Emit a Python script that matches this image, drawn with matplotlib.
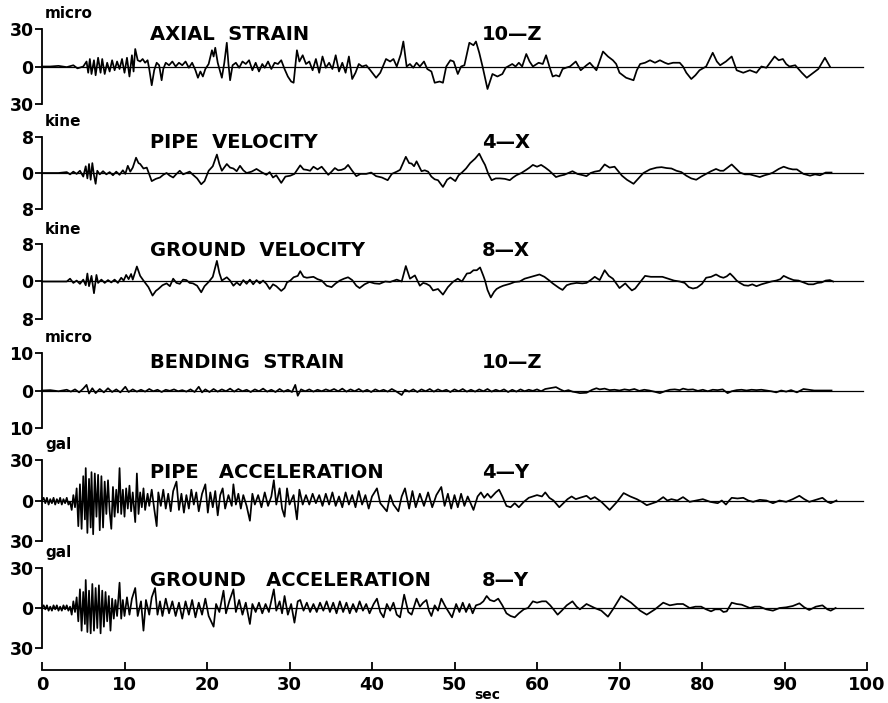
import matplotlib
matplotlib.use("Agg")
import matplotlib.pyplot as plt

plt.rcParams['font.family'] = ['DejaVu Sans']
plt.rcParams['font.weight'] = 'bold'

# (time sec, value) pairs
axial_strain = [
    (0, 0), (1, 0), (2, 0.5), (3, -0.5), (3.8, 1), (4.3, -1.5), (5.0, 0), (5.4, 4), (5.6, -5), (5.8, 6),
    (6.0, -6), (6.3, 5), (6.5, -7), (6.8, 7), (7.1, -5), (7.3, 6), (7.6, -6), (7.9, 3), (8.2, -4), (8.5, 5),
    (8.8, -3), (9.1, 4), (9.4, -2), (9.7, 6), (10.0, -5), (10.3, 7), (10.6, -8), (10.9, 9), (11.1, -4), (11.3, 14),
    (11.6, 5), (11.9, 4), (12.2, 6), (12.5, 3), (12.8, 5), (13.0, -2), (13.3, -15), (13.6, -3), (13.9, 3), (14.2, 1),
    (14.5, -11), (14.7, -2), (15.0, 3), (15.4, 1), (15.8, 4), (16.2, 0), (16.6, 3), (17.0, 1), (17.4, 4), (17.8, -1),
    (18.2, 3), (18.6, -3), (18.9, -9), (19.2, -4), (19.5, -8), (19.8, -2), (20.2, 2), (20.6, 13), (20.8, 8), (21.0, 15),
    (21.3, 3), (21.8, -9), (22.1, 3), (22.4, 19), (22.6, 2), (22.8, -11), (23.1, 1), (23.5, 3), (23.9, -1), (24.3, 4),
    (24.7, 2), (25.1, 5), (25.5, -3), (25.9, 3), (26.3, -4), (26.7, 2), (27.0, -1), (27.4, 4), (27.8, -2), (28.2, 3),
    (28.6, 2), (29.0, 5), (29.4, -2), (29.8, -8), (30.2, -12), (30.5, -13), (30.9, 13), (31.2, 4), (31.6, 9), (32.0, 2),
    (32.4, 4), (32.8, -3), (33.2, 6), (33.6, -5), (34.0, 8), (34.4, -1), (34.8, 3), (35.2, -2), (35.6, 9), (36.0, -4),
    (36.4, 3), (36.8, -5), (37.2, 8), (37.6, -10), (38.0, -5), (38.4, 2), (38.8, 0), (39.3, 1), (39.8, -3), (40.5, -9),
    (41.0, -5), (41.7, 6), (42.2, 4), (42.6, 6), (43.0, 0), (43.5, 10), (43.8, 20), (44.2, 0), (44.6, 2), (45.0, -1),
    (45.4, 3), (45.8, 0), (46.3, 4), (46.7, -2), (47.2, -4), (47.6, -13), (48.2, -12), (48.6, -13), (49.0, 0), (49.5, 5),
    (49.9, 4), (50.4, -6), (50.8, 0), (51.2, 1), (51.8, 19), (52.3, 17), (52.6, 20), (53.0, 11), (53.4, 0), (54.0, -18),
    (54.3, -12), (54.6, -6), (55.2, -8), (55.8, -6), (56.2, -1), (57.0, 2), (57.4, 0), (57.8, 3), (58.2, 0), (58.7, 10),
    (59.1, 4), (59.5, 0), (60.2, 3), (60.7, 2), (61.1, 9), (61.5, 0), (61.9, -8), (62.3, -7), (62.7, -8), (63.1, -2),
    (63.5, -1), (64.0, 0), (64.7, 4), (65.3, -3), (66.0, 1), (66.4, 3), (67.2, -3), (68.0, 12), (68.6, 8), (69.2, 5),
    (69.6, 2), (70.0, -5), (70.8, -9), (71.7, -11), (72.1, -3), (72.5, 2), (73.1, 3), (73.7, 5), (74.3, 3), (74.9, 5),
    (75.5, 3), (75.9, 2), (76.5, 3), (77.3, 3), (77.7, 0), (78.1, -5), (78.7, -10), (79.2, -7), (79.7, -3), (80.5, 0),
    (81.3, 11), (81.8, 4), (82.2, 1), (82.9, 4), (83.6, 8), (84.2, -3), (84.6, -4), (85.0, -5), (85.8, -3), (86.6, -5),
    (87.2, 0), (87.8, -1), (88.8, 8), (89.3, 5), (89.8, 6), (90.2, 2), (90.6, 0), (91.3, 1), (92.1, -5), (92.7, -9),
    (93.5, -5), (94.1, -2), (94.9, 7), (95.5, 0),
]

pipe_velocity = [
    (0, 0), (2, 0), (3.0, 0.2), (3.4, -0.3), (3.8, 0.3), (4.2, -0.2), (4.6, 0.5), (5.0, -0.8), (5.3, 1.5), (5.5, -1.2),
    (5.7, 2.0), (5.9, -1.5), (6.1, 2.2), (6.3, -0.5), (6.5, -2.4), (6.7, 0.5), (7.0, -0.3), (7.4, 0.4), (7.8, -0.3), (8.2, 0.2),
    (8.6, -0.5), (9.0, 0.3), (9.4, -0.4), (9.8, 0.6), (10.1, -0.2), (10.4, 1.6), (10.7, 0.3), (11.0, 1.2), (11.4, 3.4), (11.7, 2.2),
    (11.9, 2.0), (12.3, 1.0), (12.7, 1.2), (13.3, -1.8), (13.8, -1.3), (14.3, -1.0), (14.7, -0.4), (15.1, 0), (15.5, -0.6), (15.9, -1.0),
    (16.3, -0.2), (16.7, 0.5), (17.1, -0.3), (17.5, 0), (17.9, 0.3), (18.3, -0.4), (18.8, -1.2), (19.3, -2.5), (19.7, -1.8), (20.2, 0.5),
    (20.7, 1.5), (21.2, 4.1), (21.5, 2.0), (21.8, 0.5), (22.4, 2.0), (22.8, 1.2), (23.2, 1.0), (23.6, 0.4), (24.0, 1.6), (24.4, 0.6),
    (24.8, 0), (25.4, 0.3), (26.0, 0.9), (26.6, 0.2), (27.2, -0.4), (27.6, 0.2), (28.0, -1.0), (28.4, -0.5), (29.0, -2.2), (29.5, -0.8),
    (30.1, -0.6), (30.6, -0.2), (31.3, 1.7), (31.7, 0.8), (32.1, 0.7), (32.5, 0.5), (32.9, 1.4), (33.4, 0.8), (33.9, 1.4), (34.3, 0.5),
    (34.7, -0.4), (35.1, 0.3), (35.5, 1.1), (35.9, 0.6), (36.3, 0.7), (36.7, 1.0), (37.1, 1.8), (37.6, 0.5), (38.1, -0.7), (38.6, -0.2),
    (39.3, -0.2), (39.9, 0.1), (40.5, -0.7), (41.2, -1.0), (41.9, -1.6), (42.4, -0.2), (43.0, 0.3), (43.4, 0.7), (44.1, 3.6), (44.5, 2.2),
    (44.8, 2.1), (45.1, 1.5), (45.4, 2.6), (46.0, 0.4), (46.4, 0.6), (46.8, 0.3), (47.2, -0.8), (47.6, -1.4), (48.0, -1.6), (48.6, -3.1),
    (49.1, -1.5), (49.5, -1.0), (50.1, -1.8), (50.5, -0.5), (50.9, 0.1), (51.4, 1.0), (51.9, 2.2), (52.5, 3.2), (53.0, 4.3), (53.4, 2.8),
    (53.7, 1.8), (54.1, -0.2), (54.5, -1.6), (55.0, -1.2), (55.5, -1.2), (56.1, -1.3), (56.7, -1.6), (57.1, -1.0), (57.5, -0.5), (58.1, 0),
    (58.7, 0.7), (59.1, 1.2), (59.5, 1.8), (60.0, 1.4), (60.5, 1.8), (61.0, 1.2), (61.5, 0.5), (61.9, -0.2), (62.3, -0.9), (62.8, -0.6),
    (63.3, -0.4), (63.8, 0), (64.3, 0.4), (64.9, -0.2), (65.6, -0.5), (66.0, -0.7), (66.5, 0), (67.0, 0.3), (67.6, 0.5), (68.2, 1.9),
    (68.8, 1.2), (69.4, 1.4), (69.8, 0.5), (70.3, -0.6), (70.9, -1.5), (71.7, -2.4), (72.3, -1.2), (72.9, 0), (73.7, 0.8), (74.5, 1.2),
    (75.1, 1.3), (75.7, 1.1), (76.3, 1.0), (76.9, 0.5), (77.5, 0.2), (78.1, -0.6), (78.7, -1.2), (79.3, -1.5), (79.9, -0.8), (80.5, -0.2),
    (81.1, 0.4), (81.7, 0.9), (82.2, 0.5), (82.6, 0.5), (83.1, 1.2), (83.6, 1.9), (84.1, 1.0), (84.6, 0.1), (85.2, -0.3), (85.8, -0.3),
    (86.4, -0.6), (87.0, -0.9), (87.6, -0.5), (88.2, -0.2), (88.6, 0.1), (89.3, 0.9), (89.9, 1.4), (90.5, 1.0), (91.0, 0.8), (91.5, 0.8),
    (92.3, -0.2), (93.1, -0.6), (93.7, -0.3), (94.3, -0.5), (95.0, 0.1), (95.7, 0.1),
]

ground_velocity = [
    (0, 0), (3.0, 0), (3.4, 0.6), (3.8, -0.3), (4.2, 0.2), (4.6, -0.5), (5.0, 0.4), (5.3, -0.8), (5.5, 1.7), (5.7, -1.0),
    (6.0, 1.2), (6.3, -2.5), (6.6, 1.4), (6.8, -0.3), (7.2, 0.4), (7.6, -0.3), (8.0, 0.3), (8.4, -0.2), (8.8, 0.4), (9.2, -0.3),
    (9.6, 0.8), (9.9, 0.2), (10.2, 1.4), (10.5, 0.5), (10.8, 1.6), (11.0, 0.4), (11.5, 3.2), (11.9, 1.2), (12.3, 0.2), (12.9, -1.2),
    (13.4, -3.0), (13.8, -2.0), (14.1, -1.6), (14.6, -0.8), (15.1, -0.4), (15.5, -1.0), (15.9, 0.6), (16.3, -0.3), (16.7, -0.5), (17.1, 0.4),
    (17.5, 0.3), (17.9, -0.3), (18.3, -0.4), (18.8, -0.9), (19.3, -2.3), (19.7, -1.0), (20.2, -0.1), (20.7, 1.0), (21.2, 4.4), (21.5, 1.8),
    (21.8, 0.2), (22.4, 0.9), (22.8, 0.2), (23.2, -0.9), (23.6, -0.2), (24.0, -0.8), (24.4, 0.3), (24.8, -0.5), (25.2, 0.4), (25.6, -0.6),
    (26.0, 0.3), (26.4, -0.4), (26.8, 0.2), (27.2, -0.5), (27.6, -1.6), (28.0, -0.6), (28.4, -1.0), (29.0, -2.0), (29.4, -1.4), (29.7, -0.2),
    (30.1, 0.2), (30.5, 0.9), (31.0, 1.2), (31.3, 2.2), (31.7, 1.0), (32.1, 0.8), (32.5, 0.9), (32.9, 1.0), (33.4, 0.5), (33.9, 0.2),
    (34.5, -0.9), (35.1, -1.2), (35.6, -0.4), (36.1, 0.2), (36.6, 0.6), (37.1, 0.9), (37.6, 0.3), (38.1, -0.9), (38.5, -1.4), (39.1, -0.6),
    (39.7, -0.1), (40.3, -0.4), (40.9, -0.5), (41.6, 0), (42.2, -0.1), (43.0, 0.4), (43.6, 0), (44.1, 3.3), (44.6, 0.6), (45.2, 1.3),
    (45.8, -0.9), (46.2, -0.3), (46.6, -0.5), (47.0, -0.9), (47.4, -1.9), (48.0, -1.6), (48.6, -2.8), (49.2, -1.2), (49.8, -0.1), (50.4, 0.6),
    (50.9, 0), (51.5, 1.7), (51.9, 1.8), (52.3, 2.4), (52.7, 2.4), (53.1, 3.0), (53.5, 1.2), (53.7, 0.2), (54.0, -1.8), (54.4, -3.4),
    (54.8, -2.2), (55.1, -1.6), (55.5, -1.2), (55.9, -0.9), (56.3, -0.7), (56.7, -0.5), (57.3, -0.1), (57.9, 0), (58.5, 0.6), (59.1, 0.9),
    (59.7, 1.2), (60.3, 1.5), (60.9, 1.0), (61.5, 0.2), (61.9, -0.4), (62.3, -0.9), (62.7, -1.4), (63.1, -1.8), (63.6, -0.8), (64.1, -0.5),
    (64.8, -0.3), (65.5, -0.4), (66.0, -0.3), (66.5, 0.3), (67.0, 1.0), (67.6, 0.3), (68.2, 2.4), (68.7, 1.2), (69.2, 0.6), (69.6, -0.4),
    (70.0, -1.4), (70.7, -0.4), (71.1, -1.2), (71.5, -1.9), (71.9, -1.5), (72.3, -0.6), (72.7, 0.3), (73.1, 1.2), (73.8, 1.0), (74.5, 1.0),
    (75.2, 1.0), (75.9, 0.6), (76.6, 0.2), (77.3, 0), (77.9, -0.3), (78.4, -1.2), (78.9, -1.5), (79.4, -1.3), (80.0, -0.5), (80.5, 0.8),
    (81.1, 1.0), (81.7, 1.5), (82.2, 1.0), (82.6, 0.8), (83.0, 1.1), (83.4, 1.7), (83.8, 1.0), (84.2, 0.2), (84.6, -0.3), (85.1, -0.8),
    (85.6, -0.9), (86.1, -0.6), (86.6, -1.0), (87.2, -0.6), (87.8, -0.3), (88.4, 0), (89.0, 0.2), (89.5, 0.5), (89.9, 1.2), (90.5, 0.7),
    (91.1, 0.3), (91.7, 0.2), (92.3, -0.2), (92.9, -0.6), (93.5, -0.6), (94.0, -0.3), (94.5, -0.2), (95.0, 0.2), (95.5, 0.3), (95.9, 0),
]

bending_strain = [
    (0, 0), (1, 0.1), (2, -0.2), (3, 0.2), (3.5, -0.3), (4, 0.3), (4.5, -0.5), (5, 0.5), (5.4, 1.5), (5.7, -0.8),
    (6.1, 0.6), (6.5, -0.7), (7, 0.4), (7.5, -0.5), (8, 0.6), (8.5, -0.4), (9, 0.3), (9.5, -0.5), (10.1, 1.0), (10.5, -0.4),
    (11, 0.3), (11.5, -0.3), (12, 0.2), (12.5, -0.3), (13, 0.4), (13.5, -0.2), (14, 0.2), (14.5, -0.4), (15, 0.2), (15.5, -0.1),
    (16, 0.3), (16.5, -0.2), (17, 0.1), (17.5, -0.3), (18, 0.3), (18.5, -0.4), (19, 1.0), (19.4, -0.5), (19.8, 0.3), (20.3, -0.4),
    (20.8, 0.4), (21.3, -0.3), (21.8, 0.3), (22.3, -0.2), (22.8, 0.5), (23.3, -0.3), (23.8, 0.4), (24.3, -0.2), (24.8, 0.2), (25.3, -0.4),
    (25.8, 0.3), (26.3, -0.2), (26.8, 0.5), (27.3, -0.3), (27.8, 0.2), (28.3, -0.4), (28.8, 0.4), (29.3, -0.3), (29.8, 0.2), (30.3, -0.4),
    (30.7, 1.5), (31.0, -1.4), (31.4, 0.3), (31.9, -0.2), (32.4, 0.3), (32.9, -0.3), (33.4, 0.2), (33.9, -0.2), (34.4, 0.3), (34.9, -0.1),
    (35.4, 0.4), (35.9, -0.2), (36.4, 0.5), (36.9, -0.3), (37.4, 0.3), (37.9, -0.2), (38.4, 0.4), (38.9, -0.3), (39.4, 0.2), (39.9, -0.4),
    (40.4, 0.3), (40.9, -0.2), (41.4, 0.2), (41.9, -0.3), (42.4, 0.4), (42.9, -0.2), (43.6, -1.2), (44.0, 0.2), (44.5, -0.3), (45.0, 0.3),
    (45.5, -0.4), (46.0, 0.3), (46.5, -0.2), (47.0, 0.4), (47.5, -0.3), (48.0, 0.3), (48.5, -0.2), (49.0, 0.2), (49.5, -0.4), (50.0, 0.3),
    (50.5, -0.2), (51.0, 0.4), (51.5, -0.3), (52.0, 0.2), (52.5, -0.3), (53.0, 0.3), (53.5, -0.2), (54.0, 0.4), (54.5, -0.3), (55.0, 0.2),
    (55.5, -0.2), (56.0, 0.3), (56.5, -0.4), (57.0, 0.2), (57.5, -0.3), (58.0, 0.3), (58.5, -0.2), (59.0, 0.2), (59.5, -0.1), (60.0, 0.3),
    (60.5, -0.2), (61.0, 0.4), (61.5, 0.6), (62.3, 0.9), (62.8, 0.3), (63.3, -0.2), (63.8, 0.1), (64.3, -0.3), (64.8, -0.5), (65.2, -0.7),
    (66.0, -0.6), (66.7, 0.2), (67.2, 0.6), (67.6, 0.3), (68.2, 0.5), (68.8, 0.1), (69.4, 0.2), (70.0, 0), (70.6, 0.3), (71.2, 0.1),
    (71.8, 0.4), (72.4, -0.1), (73.0, 0.2), (73.6, 0), (74.2, -0.3), (74.9, -0.7), (75.5, -0.2), (76.1, 0.2), (76.7, 0.3), (77.3, 0.1),
    (77.7, 0.5), (78.3, 0.2), (78.9, 0.3), (79.5, -0.1), (80.1, 0.2), (80.7, -0.2), (81.3, 0.2), (81.9, 0.1), (82.5, 0.3), (83.1, -0.7),
    (83.6, -0.2), (84.2, 0.1), (84.8, 0.2), (85.4, 0), (86.0, 0.2), (86.6, 0.1), (87.2, 0.2), (87.8, 0), (88.4, -0.2), (89.0, -0.5),
    (89.6, 0), (90.2, -0.3), (90.8, 0.1), (91.5, -0.5), (92.3, 0.4), (93.0, 0.2), (93.6, 0), (94.3, 0), (95.0, 0), (95.7, 0),
]

pipe_accel = [
    (0.0, 0), (0.2, 2), (0.4, -2), (0.6, 2), (0.8, -3), (1.0, 1), (1.2, -2), (1.4, 2), (1.6, -3), (1.8, 1),
    (2.0, -2), (2.2, 2), (2.4, -3), (2.6, 1), (2.8, -2), (3.0, 2), (3.2, -3), (3.4, -1), (3.6, -7), (3.8, 4),
    (4.0, -5), (4.2, 9), (4.4, -19), (4.6, 12), (4.8, -21), (5.0, 18), (5.2, -14), (5.3, 24), (5.5, -24), (5.7, 16),
    (5.9, -20), (6.0, 21), (6.2, -25), (6.4, 20), (6.6, -12), (6.8, 19), (7.0, -22), (7.2, 18), (7.4, -20), (7.6, 14),
    (7.8, -10), (8.0, 15), (8.2, -8), (8.4, -21), (8.6, 10), (8.8, -12), (9.0, 8), (9.2, -9), (9.4, 24), (9.6, -10),
    (9.8, 8), (10.0, -12), (10.2, 9), (10.4, -6), (10.6, 11), (10.8, -8), (11.0, 6), (11.3, -16), (11.5, 20), (11.7, -10),
    (11.9, 6), (12.1, -5), (12.3, 9), (12.5, -7), (12.8, 5), (13.0, -4), (13.3, 8), (13.6, -6), (13.9, -19), (14.1, 6),
    (14.4, -4), (14.7, 8), (15.0, -6), (15.3, 5), (15.6, -8), (15.9, 7), (16.3, 14), (16.6, -7), (16.9, 5), (17.2, -9),
    (17.5, 4), (17.8, -6), (18.1, 8), (18.4, -3), (18.7, 6), (19.0, -8), (19.4, 5), (19.8, 12), (20.1, -9), (20.4, 6),
    (20.7, -5), (21.0, 7), (21.3, -11), (21.6, 4), (21.9, 9), (22.2, -6), (22.6, 4), (23.0, -4), (23.2, 12), (23.5, -3),
    (23.8, 5), (24.1, -6), (24.4, 4), (24.8, -4), (25.2, -15), (25.5, 5), (25.8, -3), (26.2, 4), (26.6, -5), (27.0, 6),
    (27.4, -4), (27.8, 3), (28.1, 15), (28.4, -3), (28.8, 9), (29.1, -6), (29.4, -12), (29.7, 9), (30.0, -3), (30.5, 4),
    (30.9, -14), (31.2, 8), (31.6, -3), (32.0, 4), (32.4, -3), (32.8, 5), (33.2, -2), (33.6, 4), (34.0, -4), (34.4, 5),
    (34.8, -3), (35.2, 6), (35.6, -4), (36.0, 3), (36.4, -5), (36.8, 6), (37.2, -3), (37.6, 4), (38.0, -5), (38.4, 7),
    (38.8, -3), (39.2, 4), (39.6, -6), (40.0, 3), (40.6, 9), (41.0, -2), (41.8, -8), (42.2, 4), (42.6, -3), (43.2, -8),
    (43.6, 3), (44.0, 9), (44.5, -6), (44.9, 7), (45.3, -5), (45.8, 5), (46.3, -4), (46.8, 6), (47.3, -5), (47.8, 4),
    (48.4, 10), (48.8, -4), (49.2, 5), (49.6, -6), (50.0, 4), (50.4, -5), (50.8, 5), (51.2, -4), (51.6, 3), (52.3, -7),
    (52.8, 3), (53.2, 6), (53.6, 2), (54.0, 5), (54.4, 2), (55.0, 6), (55.4, 8), (55.8, 3), (56.3, -4), (56.8, -5),
    (57.3, -2), (57.8, -5), (58.4, -1), (59.0, 2), (59.5, 3), (60.0, 4), (60.6, 3), (61.0, 6), (61.5, 2), (62.0, 0),
    (62.7, -5), (63.2, -2), (63.7, 1), (64.2, 3), (64.7, 1), (65.2, 2), (66.0, 3.5), (66.5, 1), (67.0, 2.5), (67.8, -1),
    (68.8, -7), (69.7, -1), (70.5, 5.5), (71.3, 3), (72.1, 1), (72.7, -1), (73.3, -3.5), (74.0, -2), (74.5, -1), (75.3, 2.5),
    (75.8, 0), (76.3, 1), (77.0, 0), (77.7, 2.5), (78.5, -1), (79.3, 0), (80.1, 1), (81.0, -1), (81.9, -2), (82.4, 0),
    (82.9, -3), (83.3, 0), (83.6, 2), (84.3, 1.5), (85.0, 2), (85.6, 0), (86.2, -1), (87.0, 0.5), (87.8, 0), (88.6, -2),
    (89.4, 0), (90.2, -1), (91.0, 1), (91.8, 3.5), (92.4, 1), (93.0, -1), (93.8, 0.5), (94.6, 2), (95.2, -1), (95.6, -2),
    (96.3, 0),
]

ground_accel = [
    (0.0, 0), (0.2, 2), (0.4, -1), (0.6, 2), (0.8, -2), (1.0, 1), (1.2, -2), (1.4, 2), (1.6, -1), (1.8, 2),
    (2.0, -2), (2.2, 1), (2.4, -2), (2.6, 2), (2.8, -1), (3.0, 2), (3.2, -2), (3.4, 1), (3.6, -5), (3.8, 5),
    (4.0, -3), (4.2, 8), (4.4, -10), (4.6, 14), (4.8, -17), (5.0, 12), (5.2, -12), (5.3, 21), (5.5, -18), (5.7, 13),
    (5.9, -19), (6.1, 18), (6.3, -17), (6.5, 15), (6.7, -15), (6.9, 17), (7.1, -19), (7.3, 13), (7.5, -14), (7.7, 12),
    (7.9, -10), (8.1, 9), (8.3, -17), (8.5, 7), (8.7, -8), (8.9, 6), (9.1, -6), (9.4, 19), (9.6, -8), (9.8, 6),
    (10.0, -6), (10.3, 8), (10.6, -5), (10.9, 7), (11.3, 15), (11.6, -6), (12.0, 5), (12.3, -17), (12.6, 6), (13.0, -5),
    (13.3, 8), (13.7, 15), (14.0, -5), (14.3, 5), (14.6, -6), (15.0, 7), (15.4, -4), (15.8, 5), (16.2, -6), (16.6, 4),
    (17.0, -8), (17.4, 5), (17.8, -5), (18.2, 6), (18.6, -7), (19.0, 4), (19.4, -5), (19.8, 7), (20.2, -6), (20.8, -14),
    (21.1, 3), (21.5, -3), (22.0, 13), (22.3, -4), (22.7, 5), (23.2, 14), (23.5, -3), (23.9, 6), (24.3, -5), (24.7, 4),
    (25.2, -12), (25.5, 3), (25.9, -3), (26.3, 4), (26.7, -4), (27.1, 3), (27.5, -3), (28.1, 14), (28.4, -2), (28.8, 5),
    (29.1, -4), (29.4, 9), (29.8, -5), (30.2, 3), (30.6, -11), (31.0, 5), (31.3, 6), (31.7, -2), (32.1, 4), (32.5, -3),
    (32.9, 3), (33.3, -3), (33.7, 4), (34.1, -2), (34.5, 5), (34.9, -3), (35.3, 4), (35.7, -4), (36.1, 5), (36.5, -3),
    (36.9, 4), (37.3, -4), (37.7, 3), (38.1, -3), (38.5, 5), (38.9, -2), (39.3, 3), (39.7, -4), (40.2, 3), (40.6, 7),
    (41.0, -3), (41.4, -7), (41.8, 3), (42.2, -2), (42.6, 4), (43.0, -5), (43.4, -7), (43.9, 10), (44.4, -3), (44.8, -5),
    (45.4, 7), (45.8, 1), (46.2, 4), (46.6, 6), (46.9, -2), (47.2, -6), (47.6, 2), (48.0, -2), (48.4, 7), (48.9, 1),
    (49.3, -3), (49.7, -7), (50.2, 3), (50.6, -3), (51.0, 4), (51.4, -3), (51.8, 3), (52.2, -4), (52.6, 2), (53.1, 3),
    (53.5, 5), (53.9, 9), (54.3, 6), (54.8, 5), (55.3, 7), (55.8, 2), (56.3, -4), (56.8, -6), (57.3, -7), (57.8, -4),
    (58.4, -1), (58.9, 0), (59.5, 5), (60.0, 4), (60.6, 5), (61.1, 5), (61.6, 2), (62.0, -1), (62.5, -5), (63.0, -2),
    (63.6, 2), (64.3, 5), (64.8, 1), (65.2, -1), (66.0, 3), (67.0, 0), (67.8, -2), (68.6, -6.5), (69.2, -1), (70.2, 9),
    (71.4, 4), (72.5, -2), (73.3, -5), (74.3, -1), (75.3, 4), (76.1, 2), (77.0, 3), (77.7, 3), (78.5, 0), (79.2, 1),
    (79.9, 1), (80.5, -1), (81.1, -2.5), (81.6, -1), (82.2, -1), (82.6, -3), (83.0, -2.5), (83.6, 4), (84.2, 3), (84.8, 2.5),
    (85.8, 0), (86.4, 1), (87.0, 1), (87.8, -1), (88.6, -2), (89.4, 0), (90.2, 0.5), (91.0, 1.5), (91.8, 3.5), (92.4, 0.5),
    (93.0, -1.5), (93.8, 1), (94.6, 2), (95.2, -1), (95.6, -2), (96.2, 0),
]

titles = ['AXIAL  STRAIN', 'PIPE  VELOCITY', 'GROUND  VELOCITY',
          'BENDING  STRAIN', 'PIPE   ACCELERATION', 'GROUND   ACCELERATION']
gauges = ['10\u2014Z', '4\u2014X', '8\u2014X', '10\u2014Z', '4\u2014Y', '8\u2014Y']
units = ['micro', 'kine', 'kine', 'micro', 'gal', 'gal']
ranges = [30, 8, 8, 10, 30, 30]
series = [axial_strain, pipe_velocity, ground_velocity, bending_strain, pipe_accel, ground_accel]

W, H = 888, 703
fig = plt.figure(figsize=(W / 100, H / 100), dpi=100)

x0, x1 = 42, 867          # pixel span of 0..100 sec
# top / bottom pixel of each panel's +-range bracket
panel_px = [(29, 104), (137, 209), (244, 319), (353, 428), (460, 541), (568, 648)]
title_y = [35, 142, 251, 362, 473, 580]


def fx(px):
    return px / W


def fy(py):
    return 1 - py / H


for i, (top, bot) in enumerate(panel_px):
    R = ranges[i]
    ax = fig.add_axes([fx(x0), fy(bot), fx(x1 - x0), (bot - top) / H])
    ax.set_xlim(0, 100)
    ax.set_ylim(-R, R)
    ax.patch.set_alpha(0)
    for s in ['top', 'right', 'bottom']:
        ax.spines[s].set_visible(False)
    ax.spines['left'].set_linewidth(1.3)
    ax.set_xticks([])
    ax.set_yticks([-R, 0, R])
    ax.set_yticklabels([str(R), '0', str(R)], fontsize=12.5, fontweight='bold')
    ax.tick_params(axis='y', direction='out', length=5, width=1.3, pad=1)

    ax.axhline(0, xmin=0, xmax=0.995, color='black', lw=0.9)
    t = [p[0] for p in series[i]]
    v = [p[1] for p in series[i]]
    ax.plot(t, v, color='black', lw=1.25, clip_on=False)

    fig.text(fx(45), fy(top - 15), units[i], fontsize=11, fontweight='bold',
             ha='left', va='center')
    fig.text(fx(150), fy(title_y[i]), titles[i], fontsize=14, fontweight='bold',
             ha='left', va='center')
    fig.text(fx(482), fy(title_y[i]), gauges[i], fontsize=14, fontweight='bold',
             ha='left', va='center')

# time axis
axb = fig.add_axes([fx(x0), fy(670), fx(x1 - x0), 0.02])
axb.set_xlim(0, 100)
axb.patch.set_alpha(0)
for s in ['top', 'right', 'left']:
    axb.spines[s].set_visible(False)
axb.spines['bottom'].set_linewidth(1.3)
axb.set_yticks([])
axb.set_xticks(range(0, 101, 10))
axb.set_xticklabels([str(v) for v in range(0, 101, 10)], fontsize=13, fontweight='bold')
axb.tick_params(axis='x', direction='in', length=6, width=1.3, pad=4)
fig.text(fx(487), fy(695), 'sec', fontsize=10, fontweight='bold', ha='center', va='center')

fig.savefig('out.png', dpi=100)
